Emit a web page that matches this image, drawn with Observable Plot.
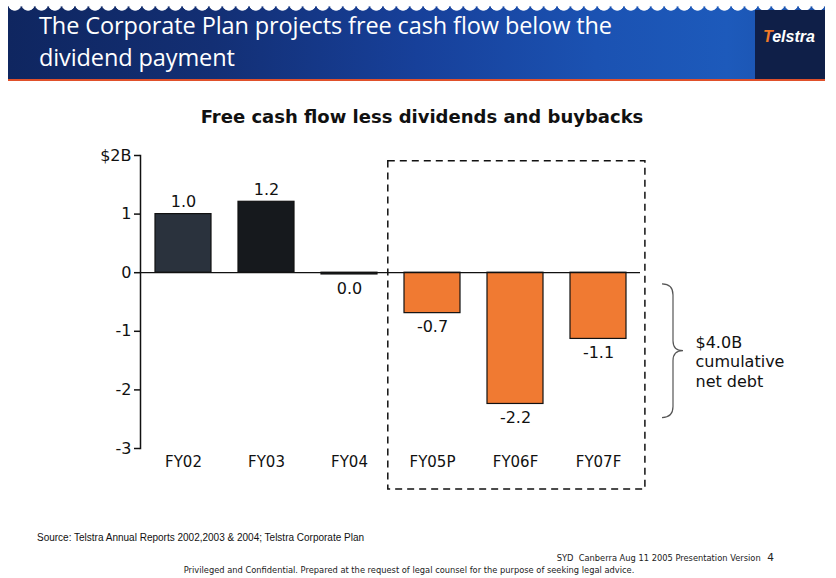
<!DOCTYPE html>
<html>
<head>
<meta charset="utf-8">
<script src="https://cdn.jsdelivr.net/npm/d3@7"></script>
<script src="https://cdn.jsdelivr.net/npm/@observablehq/plot@0.6"></script>
<style>
  html, body { margin: 0; padding: 0; background: #fff; }
  body { width: 836px; height: 578px; position: relative; overflow: hidden; font-family: "DejaVu Sans", Verdana, sans-serif; }
  #banner { position: absolute; left: 8px; top: 6px; width: 817px; height: 73px;
    background: linear-gradient(90deg, #0f2660 0%, #132f74 25%, #17409a 50%, #1b52b2 72%, #1d5abb 88%, #1a50aa 100%); }
  #scallops { position: absolute; left: 8px; top: 0px; width: 828px; height: 13px;
    background-image: radial-gradient(circle at 6.7px 4px, #ffffff 6.3px, rgba(255,255,255,0) 7px);
    background-size: 13.4px 13px; background-repeat: repeat-x; }
  #redline { position: absolute; left: 8px; top: 79px; width: 817px; height: 2px; background: #e0502a; }
  #logobox { position: absolute; left: 755px; top: 10px; width: 70px; height: 69px; background: #0f1f48; }
  #logo { position: absolute; left: 763px; top: 28px; font: italic bold 16px "Liberation Sans", Arial, sans-serif; color: #fff; }
  #logo span { color: #f07a28; }
  #headtitle { position: absolute; left: 39px; top: 9px; color: #fff; font-family: "Open Sans", sans-serif; font-size: 23.5px; line-height: 32px; letter-spacing: -0.1px; }
  #charttitle { position: absolute; left: 0; width: 844px; top: 106px; text-align: center; font-weight: bold; font-size: 18px; color: #111; }
  #chart { position: absolute; left: 0; top: 140px; }
  #source { position: absolute; left: 37px; top: 532px; font: 10px "Liberation Sans", Arial, sans-serif; color: #111; }
  #ver { position: absolute; right: 62px; top: 551px; font: 8.3px "DejaVu Sans", Tahoma, sans-serif; color: #222; }
  #ver b { font-weight: normal; font-size: 10.5px; margin-left: 4px; }
  #priv { position: absolute; left: 0; width: 818px; top: 565px; text-align: center; font: 8.3px "DejaVu Sans", Tahoma, sans-serif; color: #222; }
</style>
</head>
<body>
<div id="banner"></div>
<div id="scallops"></div>
<div id="logobox"></div>
<div id="redline"></div>
<div id="logo"><span>T</span>elstra</div>
<div id="headtitle">The Corporate Plan projects free cash flow below the<br>dividend payment</div>
<div id="charttitle">Free cash flow less dividends and buybacks</div>
<div id="chart"></div>
<div id="source">Source: Telstra Annual Reports 2002,2003 &amp; 2004; Telstra Corporate Plan</div>
<div id="ver">SYD&nbsp;&nbsp;Canberra Aug 11 2005 Presentation Version <b>4</b></div>
<div id="priv">Privileged and Confidential. Prepared at the request of legal counsel for the purpose of seeking legal advice.</div>
<script>
// ---- data ----
const categories = ["FY02", "FY03", "FY04", "FY05P", "FY06F", "FY07F"];
const values = [1.0, 1.21, -0.03, -0.69, -2.24, -1.13];
const valueLabels = ["1.0", "1.2", "0.0", "-0.7", "-2.2", "-1.1"];
const barColors = ["#2a323d", "#16191d", "#1c2128", "#f07a32", "#f07a32", "#f07a32"];
const yTicks = [2, 1, 0, -1, -2, -3];
const yTickLabels = ["$2B", "1", "0", "-1", "-2", "-3"];
const forecastFrom = "FY05P", forecastTo = "FY07F";
const boxTop = 1.9, boxBottom = -3.7;
const braceTop = -0.2, braceBottom = -2.48, braceMid = -1.34;
const annotation = "$4.0B\ncumulative\nnet debt";
const annotationY = -1.51;

const data = categories.map((c, i) => ({cat: c, value: values[i], label: valueLabels[i], color: barColors[i]}));

function dashedBox(index, scales) {
  const x = scales.x, y = scales.y;
  const bw = x.bandwidth();
  const gap = (x(categories[1]) - x(categories[0])) - bw;
  const x1 = x(forecastFrom) - 0.6 * gap, x2 = x(forecastTo) + bw + 0.7 * gap;
  const y1 = y(boxTop), y2 = y(boxBottom);
  const r = document.createElementNS("http://www.w3.org/2000/svg", "rect");
  r.setAttribute("x", x1); r.setAttribute("y", y1);
  r.setAttribute("width", x2 - x1); r.setAttribute("height", y2 - y1);
  r.setAttribute("fill", "none"); r.setAttribute("stroke", "#111");
  r.setAttribute("stroke-width", 1.5); r.setAttribute("stroke-dasharray", "7,5");
  return r;
}

function brace(index, scales, values, dims) {
  const y = scales.y;
  const xr = dims.width - dims.marginRight;
  const a = xr + 22, b = xr + 33, c = xr + 43;
  const t = y(braceTop), m = y(braceMid), bo = y(braceBottom);
  const p = document.createElementNS("http://www.w3.org/2000/svg", "path");
  p.setAttribute("d", `M${a},${t} Q${b},${t} ${b},${t+11} L${b},${m-10} Q${b},${m} ${c},${m} Q${b},${m} ${b},${m+10} L${b},${bo-11} Q${b},${bo} ${a},${bo}`);
  p.setAttribute("fill", "none"); p.setAttribute("stroke", "#555"); p.setAttribute("stroke-width", 1.2);
  return p;
}

const plot = Plot.plot({
  width: 836,
  height: 360,
  marginLeft: 140,
  marginRight: 196,
  marginTop: 15,
  marginBottom: 52,
  style: {fontFamily: "DejaVu Sans, Verdana, sans-serif", color: "#111", background: "transparent"},
  x: {domain: categories, paddingInner: 0.33, paddingOuter: 0.165, axis: null, label: null},
  y: {domain: [-3, 2], axis: null, label: null},
  color: {type: "identity"},
  marks: [
    Plot.barY(data, {x: "cat", y: "value", fill: "color", stroke: "#111", strokeWidth: 1.2}),
    Plot.ruleY([0], {stroke: "#111", strokeWidth: 1.3}),
    Plot.frame({anchor: "left", stroke: "#111", strokeWidth: 1.5}),
    Plot.axisY(yTicks, {tickFormat: (d) => yTickLabels[yTicks.indexOf(d)], tickSize: 6, tickPadding: 3, fontSize: 16, stroke: "#111", strokeWidth: 1.5, label: null}),
    Plot.axisX({tickSize: 0, tickPadding: 8, fontSize: 15, label: null}),
    Plot.text(data.filter(d => d.value > 0), {x: "cat", y: "value", text: "label", dy: -12, fontSize: 16, fill: "#111"}),
    Plot.text(data.filter(d => d.value <= 0), {x: "cat", y: "value", text: "label", dy: 14, fontSize: 16, fill: "#111"}),
    dashedBox,
    brace,
    Plot.text([annotation], {frameAnchor: "right", y: [annotationY], dx: 55, textAnchor: "start", fontSize: 16, lineHeight: 1.22, fill: "#111"})
  ]
});
document.getElementById("chart").appendChild(plot);
</script>
</body>
</html>
